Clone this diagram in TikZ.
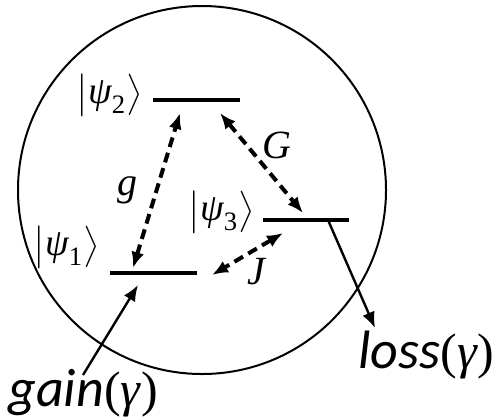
\documentclass[tikz,border=0pt]{standalone}
\usepackage{amsmath}
\usepackage{fontspec}
\setmainfont{Liberation Serif}
\newfontfamily\calibri{Carlito}
\usetikzlibrary{arrows.meta}
\tikzset{
  level/.style={line width=2pt},
  coupling/.style={{Latex[length=8pt,width=6.5pt]}-{Latex[length=8pt,width=6.5pt]}, line width=2pt, dash pattern=on 5pt off 3pt},
  pump/.style={-{Latex[length=8pt,width=6.5pt]}, line width=1.2pt},
  ket/.style={font=\fontsize{19}{22}\selectfont, inner sep=0pt, anchor=east},
  rate/.style={font=\fontsize{20}{24}\selectfont\itshape, inner sep=0pt},
  channel/.style={font=\fontsize{25}{28}\selectfont, inner sep=0pt, anchor=base west}
}

\begin{document}
\begin{tikzpicture}[x=0.5pt, y=-0.5pt]
  \useasboundingbox (0,0) rectangle (496,419);
  \draw[line width=1pt] (202,190) circle[radius=92pt];
  % energy levels
  \coordinate (l1a) at (110,273); \coordinate (l1b) at (197,273);
  \coordinate (l2a) at (153,100); \coordinate (l2b) at (240,100);
  \coordinate (l3a) at (263,220); \coordinate (l3b) at (349,220);
  \draw[level] (l1a) -- (l1b);
  \draw[level] (l2a) -- (l2b);
  \draw[level] (l3a) -- (l3b);
  \node[ket] (k1) at (100,247) {$\bigl|\text{\itshape ψ}_{\text{1}}\bigr\rangle$};
  \node[ket] (k2) at (143,95) {$\bigl|\text{\itshape ψ}_{\text{2}}\bigr\rangle$};
  \node[ket] (k3) at (255,212) {$\bigl|\text{\itshape ψ}_{\text{3}}\bigr\rangle$};
  % couplings
  \coordinate (g1) at (133,268); \coordinate (g2) at (180,113);
  \coordinate (G2) at (220,113); \coordinate (G3) at (303,213);
  \coordinate (J3) at (283,233); \coordinate (J1) at (212,275);
  \draw[coupling] (g1) -- (g2);
  \draw[coupling] (G2) -- (G3);
  \draw[coupling] (J3) -- (J1);
  \node[rate] (g) at (127,190) {g};
  \node[rate] (G) at (277,145) {G};
  \node[rate] (J) at (256,272) {J};
  % gain and loss
  \node[channel] (gain) at (8,406) {{\calibri\itshape\fontsize{27}{30}\selectfont gain}(\textit{γ})};
  \node[channel] (loss) at (358,368) {{\calibri\itshape\fontsize{27}{30}\selectfont loss}(\textit{γ})};
  \coordinate (gin) at (83,375); \coordinate (gtip) at (138,285);
  \coordinate (lout) at (328,220); \coordinate (ltip) at (375,328);
  \draw[pump] (gin) -- (gtip);
  \draw[pump] (lout) -- (ltip);
\end{tikzpicture}
\end{document}
